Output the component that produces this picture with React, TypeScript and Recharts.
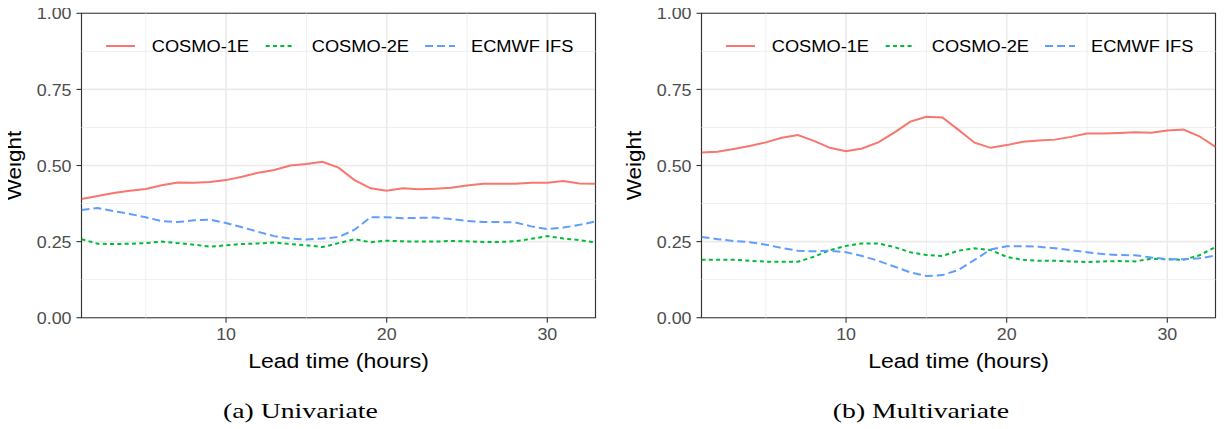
import React from 'react';
import { LineChart, Line, XAxis, YAxis, CartesianGrid, ReferenceLine, ReferenceArea } from 'recharts';

// lead time in hours
const leadTime = [1, 2, 3, 4, 5, 6, 7, 8, 9, 10, 11, 12, 13, 14, 15, 16, 17, 18, 19, 20, 21, 22, 23, 24, 25, 26, 27, 28, 29, 30, 31, 32, 33];

// (a) univariate weights
const uniCosmo1 = [0.39, 0.4, 0.41, 0.417, 0.423, 0.435, 0.444, 0.443, 0.446, 0.452, 0.463, 0.476, 0.485, 0.5, 0.505, 0.512, 0.493, 0.452, 0.425, 0.417, 0.425, 0.422, 0.424, 0.427, 0.434, 0.44, 0.44, 0.44, 0.443, 0.443, 0.449, 0.441, 0.44];
const uniCosmo2 = [0.258, 0.243, 0.242, 0.243, 0.245, 0.25, 0.245, 0.24, 0.233, 0.238, 0.242, 0.244, 0.247, 0.242, 0.238, 0.232, 0.245, 0.258, 0.248, 0.253, 0.251, 0.25, 0.25, 0.252, 0.251, 0.249, 0.249, 0.251, 0.259, 0.268, 0.26, 0.255, 0.247];
const uniEcmwf = [0.354, 0.36, 0.35, 0.341, 0.33, 0.317, 0.314, 0.32, 0.322, 0.311, 0.297, 0.282, 0.268, 0.26, 0.257, 0.26, 0.265, 0.289, 0.33, 0.33, 0.327, 0.328, 0.329, 0.324, 0.318, 0.314, 0.314, 0.313, 0.3, 0.291, 0.296, 0.305, 0.316];

// (b) multivariate weights
const mulCosmo1 = [0.543, 0.545, 0.554, 0.564, 0.576, 0.591, 0.6, 0.581, 0.558, 0.547, 0.556, 0.576, 0.608, 0.644, 0.66, 0.658, 0.617, 0.575, 0.558, 0.567, 0.578, 0.582, 0.585, 0.594, 0.605, 0.605, 0.607, 0.609, 0.608, 0.615, 0.618, 0.596, 0.561];
const mulCosmo2 = [0.19, 0.19, 0.19, 0.187, 0.184, 0.184, 0.184, 0.2, 0.222, 0.236, 0.244, 0.244, 0.232, 0.215, 0.206, 0.203, 0.22, 0.228, 0.222, 0.2, 0.19, 0.187, 0.187, 0.185, 0.183, 0.185, 0.186, 0.185, 0.194, 0.192, 0.19, 0.205, 0.232];
const mulEcmwf = [0.265, 0.258, 0.252, 0.248, 0.24, 0.229, 0.22, 0.218, 0.22, 0.215, 0.203, 0.187, 0.168, 0.149, 0.137, 0.14, 0.157, 0.19, 0.224, 0.235, 0.235, 0.233, 0.228, 0.222, 0.215, 0.209, 0.206, 0.205, 0.198, 0.192, 0.192, 0.195, 0.204];

const seriesNames = ['COSMO-1E', 'COSMO-2E', 'ECMWF IFS'];
const xTicks = [10, 20, 30];
const yTicks = [0, 0.25, 0.5, 0.75, 1];
const xMinor = [5, 15, 25];
const yMinor = [0.125, 0.375, 0.625, 0.875];

const FONT = '"Liberation Sans", Arial, Helvetica, sans-serif';
const SX = 1.12; // the figure is a bit wider than tall
const keys = ['c1', 'c2', 'ec'];
const styles = [
    { color: '#F8766D', dash: undefined },
    { color: '#00BA38', dash: '4 3.3' },
    { color: '#619CFF', dash: '8 4' },
];

const buildRows = (a: number[], b: number[], c: number[]) =>
    leadTime.map((t, i) => ({ t, c1: a[i], c2: b[i], ec: c[i] }));

const uniRows = buildRows(uniCosmo1, uniCosmo2, uniEcmwf);
const mulRows = buildRows(mulCosmo1, mulCosmo2, mulEcmwf);

const XTick = (props: any) => {
    const { x, y, payload } = props;
    return (
        <text
            transform={`translate(${x},${y}) scale(1.05,1)`}
            textAnchor="middle"
            dy="0.71em"
            fontSize={17}
            fill="#4D4D4D"
            fontFamily={FONT}
        >
            {payload.value}
        </text>
    );
};

const YTick = (props: any) => {
    const { x, y, payload } = props;
    return (
        <text
            transform={`translate(${x},${y}) scale(1.05,1)`}
            textAnchor="end"
            dy="0.36em"
            fontSize={17}
            fill="#4D4D4D"
            fontFamily={FONT}
        >
            {Number(payload.value).toFixed(2)}
        </text>
    );
};

const XTitle = (props: any) => {
    const vb = props.viewBox || {};
    const cx = vb.x + vb.width / 2;
    return (
        <text
            transform={`translate(${cx},${vb.y + 50}) scale(${SX},1)`}
            textAnchor="middle"
            fontSize={20.6}
            fill="#000"
            fontFamily={FONT}
        >
            Lead time (hours)
        </text>
    );
};

const YTitle = (props: any) => {
    const vb = props.viewBox || {};
    const cy = vb.y + vb.height / 2;
    return (
        <text
            transform={`translate(16.2,${cy}) scale(0.9,1) rotate(-90)`}
            textAnchor="middle"
            dy="0.255em"
            fontSize={22.5}
            fill="#000"
            fontFamily={FONT}
        >
            Weight
        </text>
    );
};

function LegendOverlay() {
    const items = [
        { seg: [106, 135], tx: 151.7 },
        { seg: [265.7, 295], tx: 311.7 },
        { seg: [425, 455], tx: 471 },
    ];
    return (
        <svg width={610} height={70} style={{ position: 'absolute', left: 0, top: 0, pointerEvents: 'none' }}>
            {items.map((it, i) => (
                <g key={seriesNames[i]}>
                    <line
                        x1={it.seg[0]}
                        x2={it.seg[1]}
                        y1={46}
                        y2={46}
                        stroke={styles[i].color}
                        strokeWidth={2}
                        strokeDasharray={styles[i].dash}
                    />
                    <text
                        transform={`translate(${it.tx},51.8) scale(${SX},1)`}
                        fontSize={16.3}
                        fill="#000"
                        fontFamily={FONT}
                    >
                        {seriesNames[i]}
                    </text>
                </g>
            ))}
        </svg>
    );
}

function Panel({ rows, caption, left }: { rows: any[]; caption: string; left: number }) {
    return (
        <div style={{ position: 'absolute', left, top: 0, width: 610, height: 429 }}>
            <LineChart width={610} height={380} data={rows} margin={{ top: 13.3, right: 14.5, bottom: 0.3, left: 0 }}>
                <CartesianGrid stroke="#EBEBEB" strokeWidth={1.6} />
                {xMinor.map((v) => (
                    <ReferenceLine key={'x' + v} x={v} stroke="#EBEBEB" strokeWidth={0.8} />
                ))}
                {yMinor.map((v) => (
                    <ReferenceLine key={'y' + v} y={v} stroke="#EBEBEB" strokeWidth={0.8} />
                ))}
                <XAxis
                    dataKey="t"
                    type="number"
                    domain={[1, 33]}
                    ticks={xTicks}
                    allowDataOverflow
                    axisLine={false}
                    tickLine={{ stroke: '#333333', strokeWidth: 1.1 }}
                    tickSize={5}
                    tickMargin={5}
                    height={62}
                    tick={(p: any) => <XTick {...p} />}
                    label={{ content: (p: any) => <XTitle {...p} /> }}
                />
                <YAxis
                    type="number"
                    domain={[0, 1]}
                    ticks={yTicks}
                    width={81.5}
                    axisLine={false}
                    tickLine={{ stroke: '#333333', strokeWidth: 1.1 }}
                    tickSize={5}
                    tickMargin={5}
                    tick={(p: any) => <YTick {...p} />}
                    label={{ content: (p: any) => <YTitle {...p} /> }}
                />
                {keys.map((k, i) => (
                    <Line
                        key={k}
                        type="linear"
                        dataKey={k}
                        name={seriesNames[i]}
                        stroke={styles[i].color}
                        strokeWidth={2}
                        strokeDasharray={styles[i].dash}
                        dot={false}
                        activeDot={false}
                        isAnimationActive={false}
                    />
                ))}
                <ReferenceArea x1={1} x2={33} y1={0} y2={1} fill="none" fillOpacity={0} stroke="#333333" strokeWidth={1.1} />
            </LineChart>
            <LegendOverlay />
            <div
                style={{
                    position: 'absolute',
                    left: 0,
                    width: 601.6,
                    top: 398,
                    textAlign: 'center',
                    fontFamily: '"Liberation Serif", "DejaVu Serif", serif',
                    fontSize: 22,
                    lineHeight: '26px',
                    color: '#000',
                }}
            >
                <span style={{ display: 'inline-block', transform: 'scaleX(1.26)' }}>{caption}</span>
            </div>
        </div>
    );
}

export default function App() {
    return (
        <div style={{ position: 'relative', width: 1225, height: 429, margin: '-8px 0 0 -8px', background: '#fff' }}>
            <Panel rows={uniRows} caption="(a) Univariate" left={0} />
            <Panel rows={mulRows} caption="(b) Multivariate" left={620.2} />
        </div>
    );
}
